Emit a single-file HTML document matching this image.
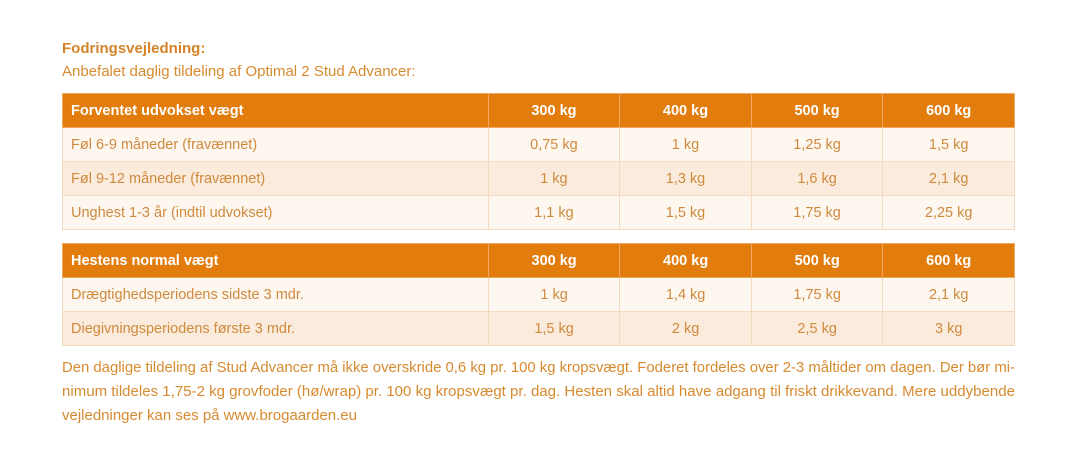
<!DOCTYPE html>
<html><head><meta charset="utf-8"><style>
body{margin:0;width:1078px;height:464px;background:#fff;font-family:"Liberation Sans",sans-serif;position:relative;overflow:hidden}
.t{position:absolute;left:62px;color:#d88a2e;font-size:15px;white-space:nowrap}
table{position:absolute;left:62px;width:953px;border-collapse:collapse;font-size:14.5px;color:#cf8a3e}
td{height:33px;padding:0;border:1px solid #f2d9c0;text-align:center}
td:first-child{text-align:left;padding-left:8px;width:418px}
td.c{width:131px}
tr.h td{background:#e17c0d;color:#fff;font-weight:bold;border-color:#eea860}
tr.a td{background:#fdf7f0}
tr.b td{background:#fbebdc}
svg{position:absolute;left:0;top:0}
</style></head><body>
<div class="t" style="top:40px;font-weight:bold;color:#d5842a">Fodringsvejledning:</div>
<div class="t" style="top:63px">Anbefalet daglig tildeling af Optimal 2 Stud Advancer:</div>
<table style="top:93px">
<tr class="h"><td>Forventet udvokset vægt</td><td class="c">300 kg</td><td class="c">400 kg</td><td class="c">500 kg</td><td class="c">600 kg</td></tr>
<tr class="a"><td>Føl 6-9 måneder (fravænnet)</td><td>0,75 kg</td><td>1 kg</td><td>1,25 kg</td><td>1,5 kg</td></tr>
<tr class="b"><td>Føl 9-12 måneder (fravænnet)</td><td>1 kg</td><td>1,3 kg</td><td>1,6 kg</td><td>2,1 kg</td></tr>
<tr class="a"><td>Unghest 1-3 år (indtil udvokset)</td><td>1,1 kg</td><td>1,5 kg</td><td>1,75 kg</td><td>2,25 kg</td></tr>
</table>
<table style="top:243px">
<tr class="h"><td>Hestens normal vægt</td><td class="c">300 kg</td><td class="c">400 kg</td><td class="c">500 kg</td><td class="c">600 kg</td></tr>
<tr class="a"><td>Drægtighedsperiodens sidste 3 mdr.</td><td>1 kg</td><td>1,4 kg</td><td>1,75 kg</td><td>2,1 kg</td></tr>
<tr class="b"><td>Diegivningsperiodens første 3 mdr.</td><td>1,5 kg</td><td>2 kg</td><td>2,5 kg</td><td>3 kg</td></tr>
</table>
<svg width="1078" height="464" font-family="Liberation Sans, sans-serif" font-size="15" fill="#d88a2e">
<text x="62" y="372" textLength="953" lengthAdjust="spacingAndGlyphs">Den daglige tildeling af Stud Advancer må ikke overskride 0,6 kg pr. 100 kg kropsvægt. Foderet fordeles over 2-3 måltider om dagen. Der bør mi-</text>
<text x="62" y="396" textLength="953" lengthAdjust="spacingAndGlyphs">nimum tildeles 1,75-2 kg grovfoder (hø/wrap) pr. 100 kg kropsvægt pr. dag. Hesten skal altid have adgang til friskt drikkevand. Mere uddybende</text>
<text x="62" y="420" textLength="295" lengthAdjust="spacingAndGlyphs">vejledninger kan ses på www.brogaarden.eu</text>
</svg>
</body></html>
